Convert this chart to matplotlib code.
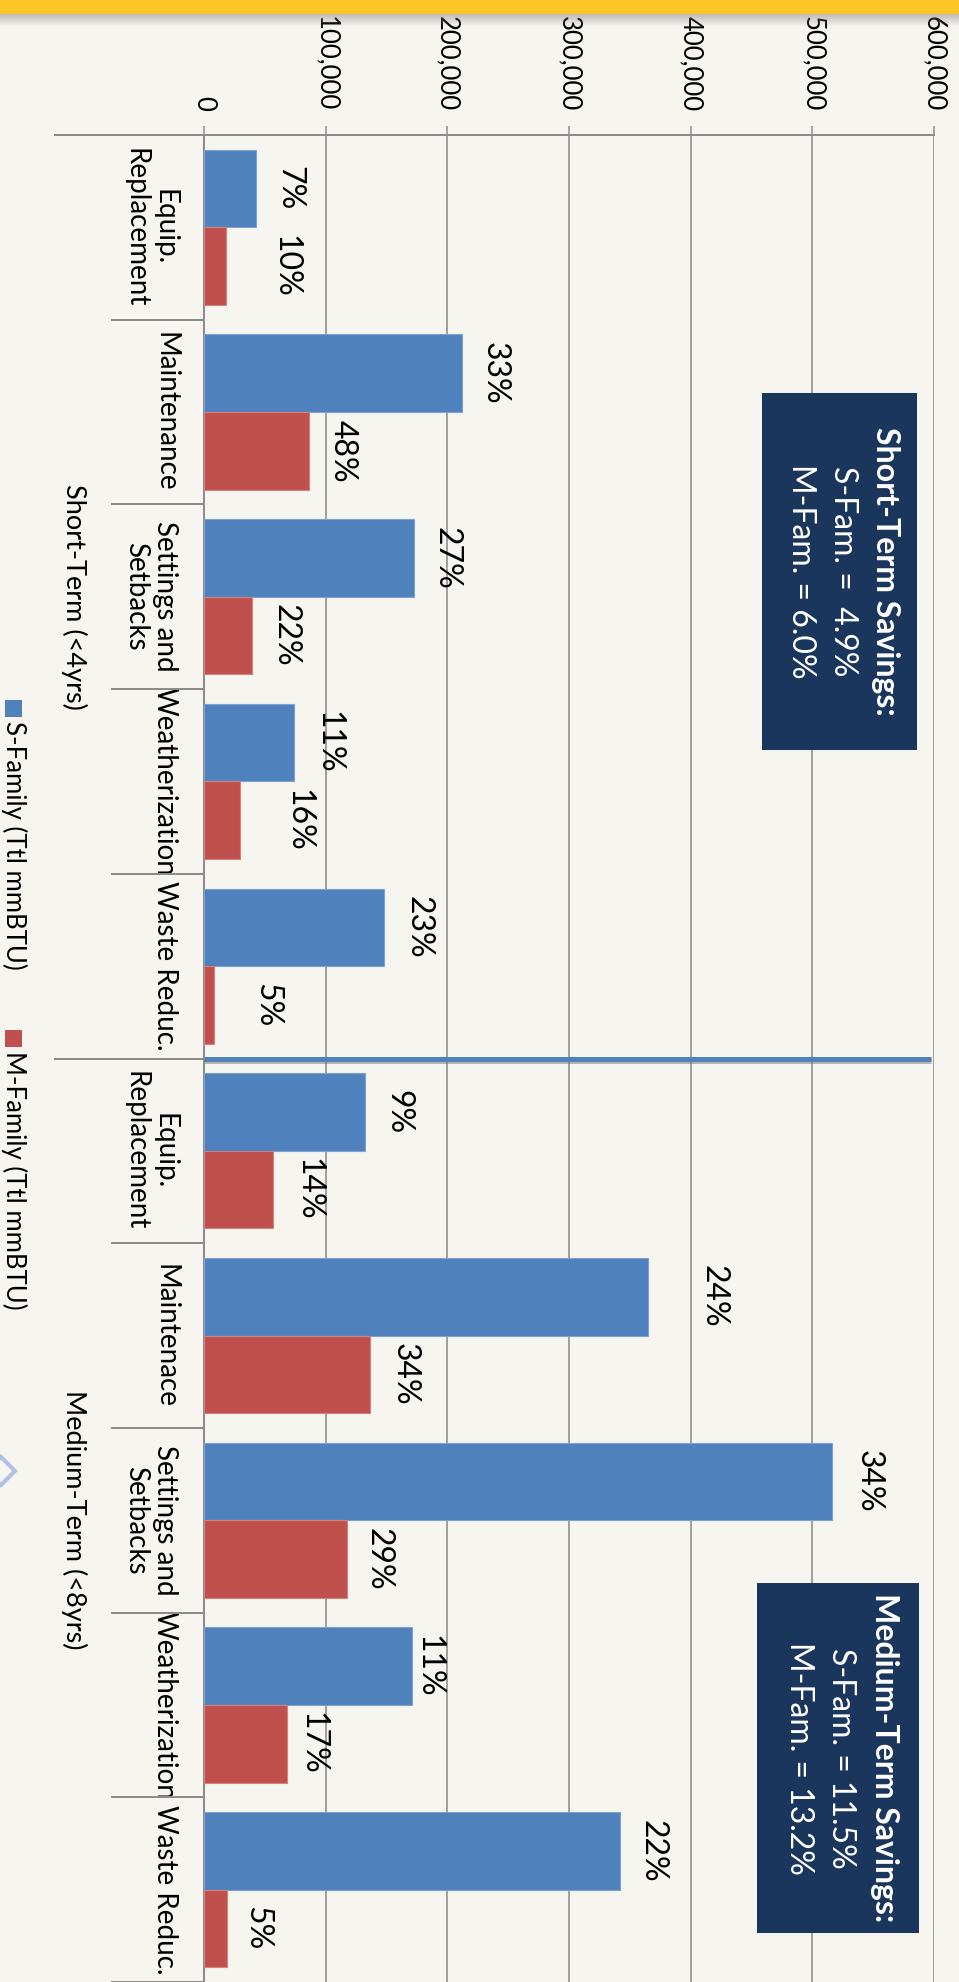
import numpy as np
import matplotlib
matplotlib.use('Agg')
import matplotlib.pyplot as plt
from matplotlib.patches import Rectangle, Polygon
from matplotlib.ticker import FuncFormatter
from matplotlib import transforms
import matplotlib.patheffects as pe

# Energy savings by measure, two horizons, two household types
categories = ['Equip.\nReplacement', 'Maintenance', 'Settings and\nSetbacks', 'Weatherization', 'Waste Reduc.',
              'Equip.\nReplacement', 'Maintenace', 'Settings and\nSetbacks', 'Weatherization', 'Waste Reduc.']
groups = ['Short-Term (<4yrs)', 'Medium-Term (<8yrs)']
s_family = [42700, 211800, 172600, 74000, 148000, 132500, 365000, 516500, 171000, 341600]
m_family = [18100, 86300, 39500, 29600, 8200, 56500, 136600, 117500, 68100, 19300]
s_pct = [7, 33, 27, 11, 23, 9, 24, 34, 11, 22]
m_pct = [10, 48, 22, 16, 5, 14, 34, 29, 17, 5]
series_names = ['S-Family (Ttl mmBTU)', 'M-Family (Ttl mmBTU)']
box_titles = ['Short-Term Savings:', 'Medium-Term Savings:']
box_lines = [['S-Fam. =  4.9%', 'M-Fam. = 6.0%'], ['S-Fam. = 11.5%', 'M-Fam. = 13.2%']]

# label distance from bar end, pixels
s_lab_off = [33, 33, 33, 34, 34, 33, 65, 36, 16, 33]
m_lab_off = [59, 34, 33, 58, 53, 36, 34, 32, 26, 30]

W, H = 959, 1982
bg = '#f6f5f0'
blue = '#4f81bd'
red = '#c0504d'
navy = '#1b365d'
gridc = '#8c8c8c'
PT = 0.72  # pixels -> points at 100 dpi

plt.rcParams['font.family'] = ['Lato', 'DejaVu Sans']

fig = plt.figure(figsize=(W / 100, H / 100), dpi=100, facecolor=bg)


def fx(x):
    return x / W


def fy(y):
    return 1 - y / H


x0, x1, ytop = 204, 934, 135
ax = fig.add_axes([fx(x0), 0, fx(x1) - fx(x0), fy(ytop)])
ax.set_facecolor(bg)

idx = np.arange(len(categories))
bh = 0.42
ax.barh(idx - bh / 2, s_family, height=bh, color=blue, edgecolor='#7ea2d2', linewidth=0.8, zorder=3)
ax.barh(idx + bh / 2, m_family, height=bh, color=red, edgecolor='#d38280', linewidth=0.8, zorder=3)
ax.set_xlim(0, 600000)
ax.set_ylim(len(categories) - 0.5, -0.5)

# value axis on top, labels turned
ax.xaxis.set_major_locator(matplotlib.ticker.MultipleLocator(100000))
ax.xaxis.set_major_formatter(FuncFormatter(lambda v, _: f'{v:,.0f}'))
ax.tick_params(axis='x', top=True, labeltop=True, bottom=False, labelbottom=False,
               length=9 * PT, width=1.5 * PT, color=gridc, pad=15 * PT,
               labelsize=18.5, labelrotation=-90)
ax.tick_params(axis='y', left=False, labelleft=False)
ax.grid(axis='x', color=gridc, lw=1.6 * PT, zorder=1)
ax.set_axisbelow(True)
for side in ['right', 'bottom']:
    ax.spines[side].set_visible(False)
for side in ['top', 'left']:
    ax.spines[side].set_color(gridc)
    ax.spines[side].set_linewidth(2 * PT)

# category boundary ticks
trans = transforms.blended_transform_factory(ax.transAxes, ax.transData)
long_x = (55 - x0) / (x1 - x0)
short_x = (112 - x0) / (x1 - x0)
for b in np.arange(-0.5, len(categories), 1.0):
    xs = long_x if b in (-0.5, 4.5) else short_x
    ax.plot([xs, 0], [b, b], transform=trans, color=gridc, lw=2 * PT, clip_on=False, zorder=4)

# divider between horizons
ax.plot([0, (931 - x0) / (x1 - x0)], [4.5, 4.5], transform=trans, color=blue, lw=5 * PT,
        solid_capstyle='butt', zorder=5, clip_on=False,
        path_effects=[pe.SimpleLineShadow(offset=(0, -1.5), shadow_color='#777777', alpha=0.5),
                      pe.Normal()])

# category and group labels
for i, name in enumerate(categories):
    ax.annotate(name, xy=(0, i), xycoords=trans, xytext=(-26 * PT, 0), textcoords='offset points',
                rotation=-90, ha='right', va='center', multialignment='center',
                fontsize=20, color='black', linespacing=1.15)
for g, name in enumerate(groups):
    ax.annotate(name, xy=(0, g * 5 + 2), xycoords=trans, xytext=(-(x0 - 87) * PT, 0),
                textcoords='offset points', rotation=-90, ha='right', va='center',
                fontsize=19.5, color='black')

# value labels
for i in idx:
    ax.annotate(f'{s_pct[i]}%', xy=(s_family[i], i - bh / 2), xytext=(s_lab_off[i] * PT, 0),
                textcoords='offset points', rotation=-90, ha='center', va='center', fontsize=23)
    ax.annotate(f'{m_pct[i]}%', xy=(m_family[i], i + bh / 2), xytext=(m_lab_off[i] * PT, 0),
                textcoords='offset points', rotation=-90, ha='center', va='center', fontsize=23)

# summary boxes
boxes = [(762, 393, 917, 750), (757, 1583, 919, 1933)]
for (bx0, by0, bx1, by1), title, lines in zip(boxes, box_titles, box_lines):
    fig.add_artist(Rectangle((fx(bx0), fy(by1)), fx(bx1) - fx(bx0), fy(by0) - fy(by1),
                             transform=fig.transFigure, facecolor=navy, edgecolor='none', zorder=6))
    cx, cy = (bx0 + bx1) / 2, (by0 + by1) / 2
    fig.text(fx(cx + 46), fy(cy), title, rotation=-90, ha='center', va='center', color='white',
             fontsize=23, fontweight='bold', zorder=7)
    for k, line in enumerate(lines):
        fig.text(fx(cx + 3 - 42 * k), fy(cy), line, rotation=-90, ha='center', va='center',
                 color='white', fontsize=23, zorder=7)

# legend along the left edge
for (ly, col, name) in [(700, blue, series_names[0]), (1030, red, series_names[1])]:
    fig.add_artist(Rectangle((fx(5), fy(ly + 17)), fx(17), fy(0) - fy(17),
                             transform=fig.transFigure, facecolor=col, edgecolor='none'))
    fig.text(fx(14), fy(ly + 21), name, rotation=-90, ha='center', va='top', fontsize=18.5)

fig.add_artist(Polygon([(fx(-13), fy(1471)), (fx(1), fy(1457)), (fx(15), fy(1471)), (fx(1), fy(1485))],
                       closed=True, transform=fig.transFigure, facecolor='none',
                       edgecolor='#afc1e3', lw=4 * PT))

# yellow band with soft shadow at the top
fig.add_artist(Rectangle((0, fy(14)), 1, fy(0) - fy(14), transform=fig.transFigure,
                         facecolor='#ffc425', edgecolor='none', zorder=10))
for k in range(12):
    fig.add_artist(Rectangle((0, fy(15 + k)), 1, fy(0) - fy(1), transform=fig.transFigure,
                             facecolor='#7a7a7a', alpha=0.45 * (1 - k / 12), edgecolor='none', zorder=9))

fig.savefig('out.png', dpi=100, facecolor=bg)
